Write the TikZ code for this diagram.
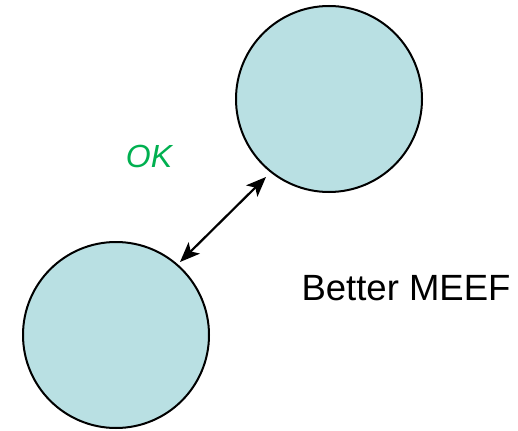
\documentclass[tikz,border=0pt]{standalone}
\usepackage{fontspec}
\setmainfont{Liberation Sans}
\usetikzlibrary{arrows.meta}
\definecolor{cfill}{HTML}{B9E0E3}
\definecolor{okgreen}{HTML}{00B050}
\begin{document}
\begin{tikzpicture}[x=1pt,y=-1pt,
  blob/.style={circle,draw=black,line width=2pt,fill=cfill,minimum size=186pt,inner sep=0pt},
  lbl/.style={inner sep=0pt,anchor=base},
  link/.style={line width=2.2pt,{Stealth[length=20pt,width=16pt,inset=5pt]}-{Stealth[length=20pt,width=16pt,inset=5pt]}}]
\useasboundingbox (0,0) rectangle (518,430);
\node[blob] (c1) at (329,99) {};
\node[blob] (c2) at (116,335) {};
\coordinate (a1) at (180,262);
\coordinate (a2) at (266,177);
\draw[link] (a1) -- (a2);
\node[lbl,text=okgreen,font=\fontsize{32}{36}\selectfont\itshape] (ok) at (149,167.5) {OK};
\node[lbl,font=\fontsize{36.5}{40}\selectfont] (meef) at (406,300) {Better MEEF};
\end{tikzpicture}
\end{document}
